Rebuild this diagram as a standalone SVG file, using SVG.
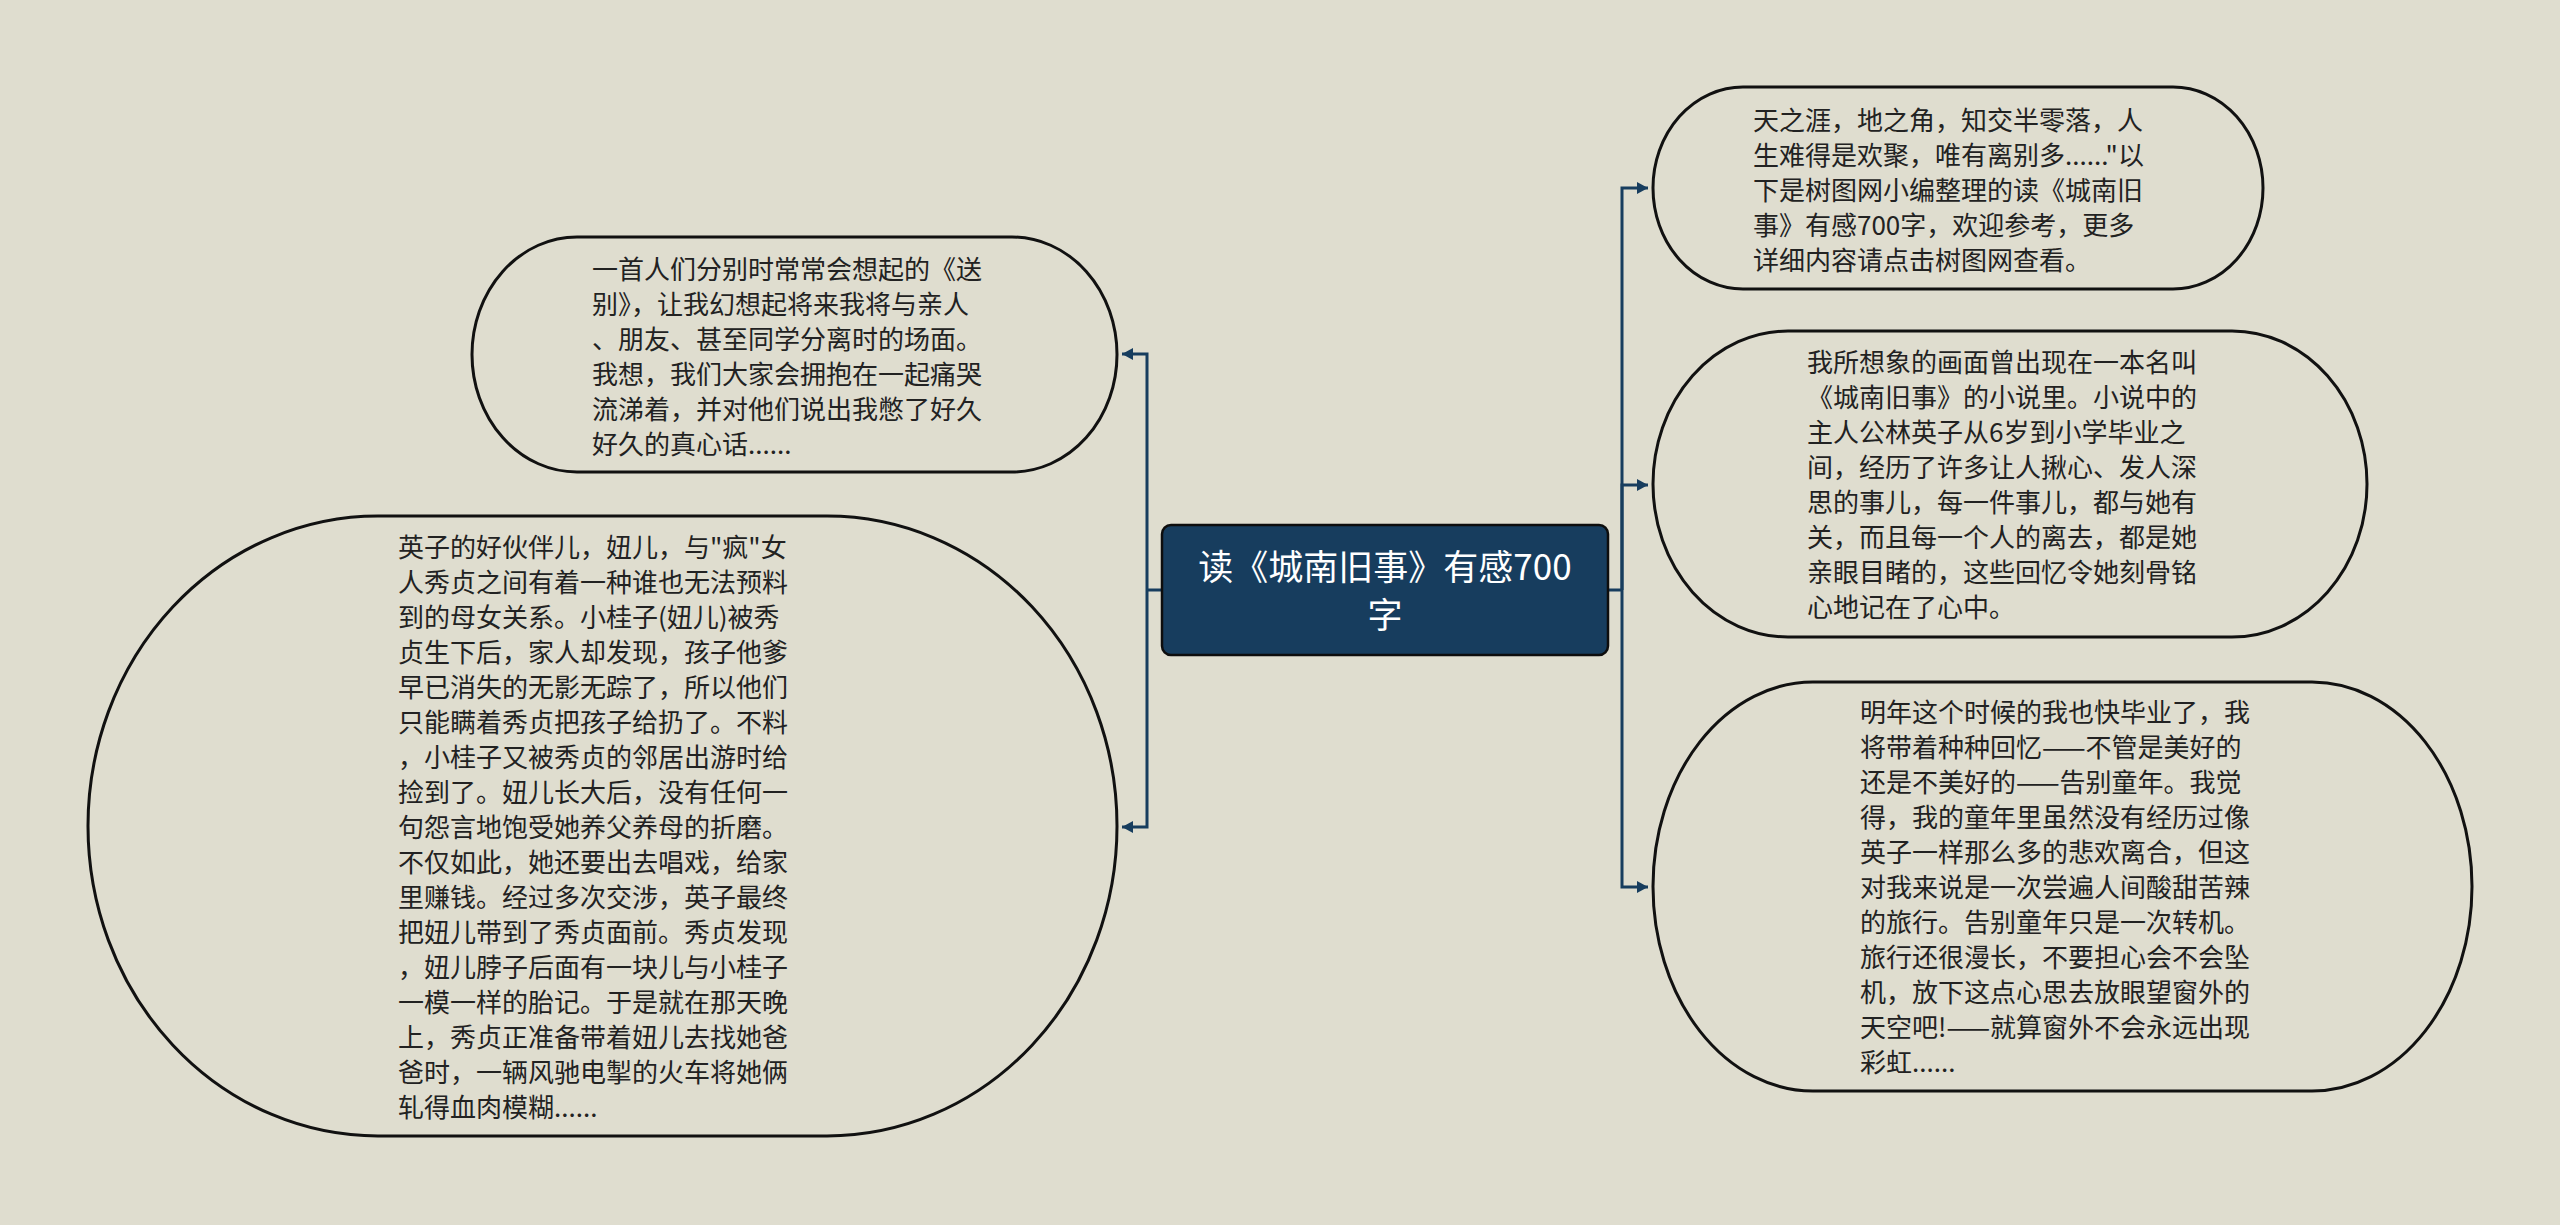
<svg xmlns="http://www.w3.org/2000/svg" width="2560" height="1225" viewBox="0 0 2560 1225">
<defs>
<style>
.bg{fill:#dfddcf}
.node{fill:#dfddcf;stroke:#111;stroke-width:3}
.t{font-family:"Noto Sans CJK SC","Noto Sans",sans-serif;font-size:26px;fill:#222}
.ct{font-family:"Noto Sans CJK SC","Noto Sans",sans-serif;font-size:35px;fill:#fff;text-anchor:middle}
.conn{fill:none;stroke:#173d5e;stroke-width:3}
</style>
<marker id="arr" viewBox="0 0 11 12" refX="11" refY="6" markerWidth="11" markerHeight="12" markerUnits="userSpaceOnUse" orient="auto">
<path d="M0,0 L11,6 L0,12 Z" fill="#173d5e"/>
</marker>
</defs>
<rect class="bg" x="0" y="0" width="2560" height="1225"/>
<g id="connectors">
<path class="conn" d="M1162,590 H1147"/>
<path class="conn" d="M1147,590 V354 H1122" marker-end="url(#arr)"/>
<path class="conn" d="M1147,590 V827 H1122" marker-end="url(#arr)"/>
<path class="conn" d="M1608,590 H1622"/>
<path class="conn" d="M1622,590 V188 H1648" marker-end="url(#arr)"/>
<path class="conn" d="M1622,590 V485 H1648" marker-end="url(#arr)"/>
<path class="conn" d="M1622,590 V887 H1648" marker-end="url(#arr)"/>
</g>
<g id="center">
<rect x="1162" y="525" width="446" height="130" rx="9" ry="9" fill="#173d5e" stroke="#0d0d0d" stroke-width="2.5"/>
<text class="ct" x="1385" y="580">读《城南旧事》有感700</text>
<text class="ct" x="1385" y="628">字</text>
</g>
<g id="node-top-left">
<rect class="node" x="472" y="237" width="645" height="235" rx="105" ry="117.5"/>
<text class="t" x="592"><tspan x="592" y="279">一首人们分别时常常会想起的《送</tspan><tspan x="592" y="314">别》，让我幻想起将来我将与亲人</tspan><tspan x="592" y="349">、朋友、甚至同学分离时的场面。</tspan><tspan x="592" y="384">我想，我们大家会拥抱在一起痛哭</tspan><tspan x="592" y="419">流涕着，并对他们说出我憋了好久</tspan><tspan x="592" y="454">好久的真心话......</tspan></text>
</g>
<g id="node-bottom-left">
<rect class="node" x="88" y="516" width="1029" height="620" rx="290" ry="310"/>
<text class="t" x="398"><tspan x="398" y="557">英子的好伙伴儿，妞儿，与"疯"女</tspan><tspan x="398" y="592">人秀贞之间有着一种谁也无法预料</tspan><tspan x="398" y="627">到的母女关系。小桂子(妞儿)被秀</tspan><tspan x="398" y="662">贞生下后，家人却发现，孩子他爹</tspan><tspan x="398" y="697">早已消失的无影无踪了，所以他们</tspan><tspan x="398" y="732">只能瞒着秀贞把孩子给扔了。不料</tspan><tspan x="398" y="767">，小桂子又被秀贞的邻居出游时给</tspan><tspan x="398" y="802">捡到了。妞儿长大后，没有任何一</tspan><tspan x="398" y="837">句怨言地饱受她养父养母的折磨。</tspan><tspan x="398" y="872">不仅如此，她还要出去唱戏，给家</tspan><tspan x="398" y="907">里赚钱。经过多次交涉，英子最终</tspan><tspan x="398" y="942">把妞儿带到了秀贞面前。秀贞发现</tspan><tspan x="398" y="977">，妞儿脖子后面有一块儿与小桂子</tspan><tspan x="398" y="1012">一模一样的胎记。于是就在那天晚</tspan><tspan x="398" y="1047">上，秀贞正准备带着妞儿去找她爸</tspan><tspan x="398" y="1082">爸时，一辆风驰电掣的火车将她俩</tspan><tspan x="398" y="1117">轧得血肉模糊......</tspan></text>
</g>
<g id="node-right-1">
<rect class="node" x="1653" y="87" width="610" height="202" rx="90" ry="101"/>
<text class="t" x="1753"><tspan x="1753" y="130">天之涯，地之角，知交半零落，人</tspan><tspan x="1753" y="165">生难得是欢聚，唯有离别多......"以</tspan><tspan x="1753" y="200">下是树图网小编整理的读《城南旧</tspan><tspan x="1753" y="235">事》有感700字，欢迎参考，更多</tspan><tspan x="1753" y="270">详细内容请点击树图网查看。</tspan></text>
</g>
<g id="node-right-2">
<rect class="node" x="1653" y="331" width="714" height="306" rx="135" ry="153"/>
<text class="t" x="1807"><tspan x="1807" y="372">我所想象的画面曾出现在一本名叫</tspan><tspan x="1807" y="407">《城南旧事》的小说里。小说中的</tspan><tspan x="1807" y="442">主人公林英子从6岁到小学毕业之</tspan><tspan x="1807" y="477">间，经历了许多让人揪心、发人深</tspan><tspan x="1807" y="512">思的事儿，每一件事儿，都与她有</tspan><tspan x="1807" y="547">关，而且每一个人的离去，都是她</tspan><tspan x="1807" y="582">亲眼目睹的，这些回忆令她刻骨铭</tspan><tspan x="1807" y="617">心地记在了心中。</tspan></text>
</g>
<g id="node-right-3">
<rect class="node" x="1653" y="682" width="819" height="409" rx="160" ry="204.5"/>
<text class="t" x="1860"><tspan x="1860" y="722">明年这个时候的我也快毕业了，我</tspan><tspan x="1860" y="757">将带着种种回忆——不管是美好的</tspan><tspan x="1860" y="792">还是不美好的——告别童年。我觉</tspan><tspan x="1860" y="827">得，我的童年里虽然没有经历过像</tspan><tspan x="1860" y="862">英子一样那么多的悲欢离合，但这</tspan><tspan x="1860" y="897">对我来说是一次尝遍人间酸甜苦辣</tspan><tspan x="1860" y="932">的旅行。告别童年只是一次转机。</tspan><tspan x="1860" y="967">旅行还很漫长，不要担心会不会坠</tspan><tspan x="1860" y="1002">机，放下这点心思去放眼望窗外的</tspan><tspan x="1860" y="1037">天空吧!——就算窗外不会永远出现</tspan><tspan x="1860" y="1072">彩虹......</tspan></text>
</g>
</svg>
